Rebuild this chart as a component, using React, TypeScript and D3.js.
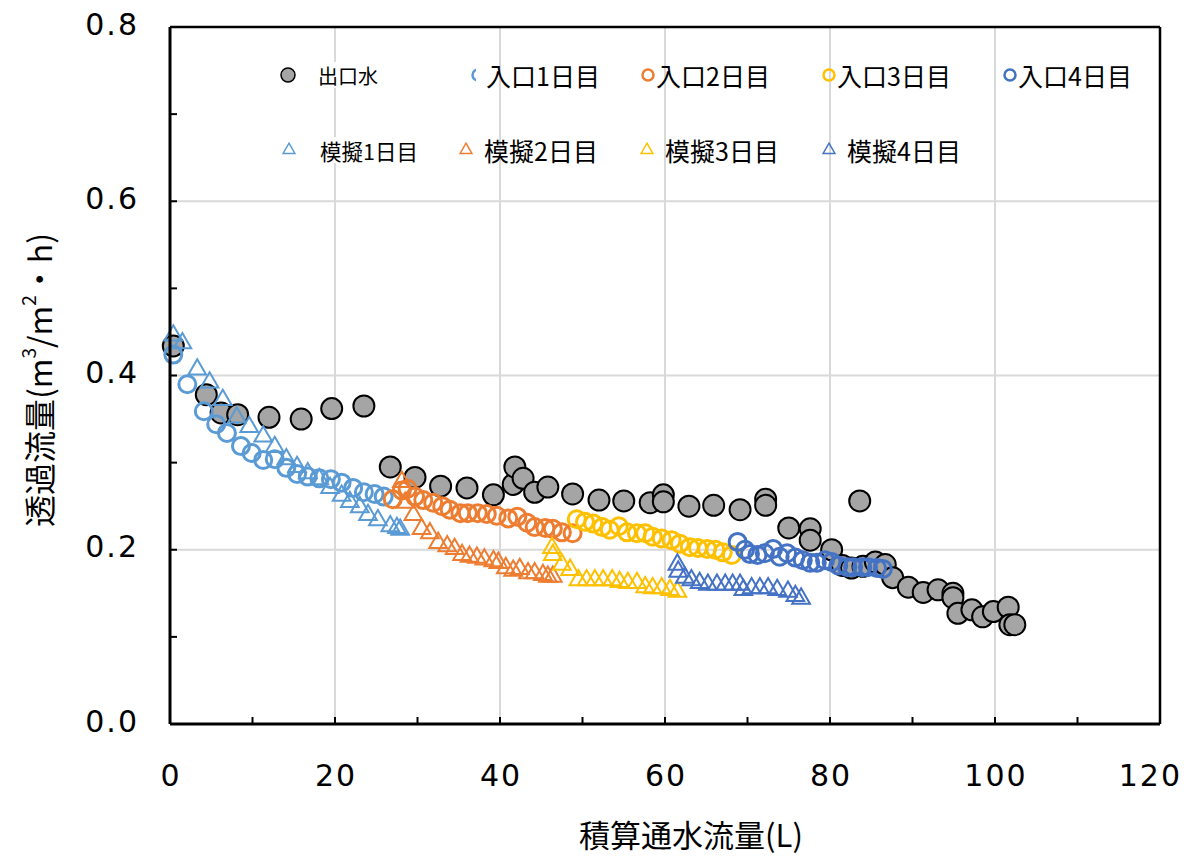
import React from 'react';
import * as d3 from 'd3';

// [積算通水流量 L, 透過流量 m3/m2·h]
const outlet = [
  [0.4, 0.434], [4.4, 0.378], [6.2, 0.357], [8.2, 0.355], [12.0, 0.352], [15.9, 0.35],
  [19.6, 0.362], [23.5, 0.365], [26.7, 0.295], [29.7, 0.283], [32.8, 0.273], [36.0, 0.271],
  [39.2, 0.263], [41.6, 0.275], [41.8, 0.295], [42.8, 0.282], [44.2, 0.266], [45.8, 0.272],
  [48.8, 0.264], [52.0, 0.257], [55.0, 0.256], [58.2, 0.254], [59.8, 0.263], [59.8, 0.255],
  [62.9, 0.25], [65.9, 0.251], [69.1, 0.246], [72.2, 0.258], [72.2, 0.251], [75.0, 0.225],
  [77.6, 0.224], [77.6, 0.211], [80.2, 0.2], [81.5, 0.182], [82.6, 0.179], [83.6, 0.256],
  [84.0, 0.181], [85.5, 0.186], [86.7, 0.183], [87.6, 0.168], [89.5, 0.157], [91.3, 0.151],
  [93.1, 0.154], [94.9, 0.15], [94.9, 0.145], [95.5, 0.127], [97.2, 0.131], [98.5, 0.123],
  [99.8, 0.129], [101.6, 0.134], [101.8, 0.114], [102.4, 0.114],
];

const inlet1 = [
  [0.4, 0.424], [2.1, 0.39], [4.1, 0.359], [5.6, 0.344], [6.9, 0.334], [8.6, 0.319],
  [9.9, 0.311], [11.3, 0.303], [12.7, 0.304], [14.1, 0.294], [15.4, 0.287], [16.7, 0.284],
  [18.1, 0.282], [19.5, 0.281], [20.8, 0.277], [22.2, 0.271], [23.5, 0.266], [24.8, 0.264],
  [25.9, 0.261],
];
const inlet2 = [
  [27.0, 0.258], [28.1, 0.268], [28.8, 0.27], [29.7, 0.261], [30.7, 0.257], [31.9, 0.254],
  [33.0, 0.25], [33.9, 0.246], [35.2, 0.242], [36.1, 0.242], [37.3, 0.242], [38.4, 0.241],
  [39.6, 0.239], [41.0, 0.236], [42.1, 0.238], [43.3, 0.231], [44.2, 0.226], [45.5, 0.225],
  [46.4, 0.224], [47.5, 0.22], [48.8, 0.219],
];
const inlet3 = [
  [49.3, 0.235], [50.3, 0.232], [51.3, 0.23], [52.4, 0.226], [53.3, 0.223], [54.4, 0.227],
  [55.4, 0.22], [56.6, 0.219], [57.6, 0.219], [58.5, 0.215], [59.6, 0.213], [60.8, 0.211],
  [61.8, 0.207], [63.0, 0.203], [64.0, 0.202], [65.1, 0.201], [66.1, 0.2], [67.0, 0.197],
  [68.1, 0.194],
];
const inlet4 = [
  [68.8, 0.209], [69.7, 0.2], [70.3, 0.195], [71.2, 0.194], [72.1, 0.196], [73.1, 0.201],
  [73.9, 0.192], [74.8, 0.196], [75.8, 0.191], [76.7, 0.188], [77.6, 0.185], [78.4, 0.185],
  [79.4, 0.188], [80.2, 0.186], [81.0, 0.182], [82.1, 0.18], [82.8, 0.18], [83.9, 0.18],
  [84.6, 0.18], [85.7, 0.179], [86.4, 0.178],
];

const sim1 = [
  [0.4, 0.446], [1.5, 0.437], [3.3, 0.407], [4.8, 0.392], [6.4, 0.372], [8.1, 0.352],
  [9.6, 0.341], [11.3, 0.33], [12.7, 0.318], [14.1, 0.304], [15.4, 0.295], [16.7, 0.288],
  [18.1, 0.281], [19.4, 0.271], [20.8, 0.262], [21.8, 0.255], [23.0, 0.249], [24.0, 0.24],
  [25.2, 0.234], [26.7, 0.227], [27.5, 0.225], [27.9, 0.223],
];
const sim2 = [
  [28.1, 0.278], [28.5, 0.254], [29.5, 0.24], [30.5, 0.224], [31.5, 0.219], [32.5, 0.208],
  [33.6, 0.204], [34.5, 0.201], [35.4, 0.194], [36.3, 0.192], [37.2, 0.191], [38.1, 0.189],
  [39.2, 0.187], [39.8, 0.185], [40.7, 0.179], [41.6, 0.176], [42.4, 0.178], [43.4, 0.173],
  [44.2, 0.173], [45.2, 0.171], [45.8, 0.169], [46.4, 0.169],
];
const sim3 = [
  [46.3, 0.202], [46.4, 0.194], [47.5, 0.183], [48.5, 0.177], [49.5, 0.165], [50.5, 0.165],
  [51.5, 0.165], [52.5, 0.165], [53.6, 0.165], [54.5, 0.163], [55.5, 0.162], [56.6, 0.162],
  [57.6, 0.157], [58.5, 0.156], [59.6, 0.156], [60.6, 0.154], [61.5, 0.152],
];
const sim4 = [
  [61.5, 0.183], [61.6, 0.175], [62.4, 0.168], [63.2, 0.165], [64.2, 0.162], [65.2, 0.16],
  [66.3, 0.16], [67.3, 0.16], [68.2, 0.16], [69.1, 0.16], [69.5, 0.154], [70.5, 0.156],
  [71.5, 0.156], [72.5, 0.156], [73.6, 0.154], [74.9, 0.152], [75.8, 0.147], [76.5, 0.144],
];

const xTicks = [0, 20, 40, 60, 80, 100, 120];
const yTicks = [0, 0.2, 0.4, 0.6, 0.8];

const colors = ['#5b9bd5', '#ed7d31', '#ffc000', '#4472c4'];
const inletSeries = [inlet1, inlet2, inlet3, inlet4];
const simSeries = [sim1, sim2, sim3, sim4];
const inletNames = ['入口1日目', '入口2日目', '入口3日目', '入口4日目'];
const simNames = ['模擬1日目', '模擬2日目', '模擬3日目', '模擬4日目'];

const W = 1184, H = 858;
const left = 170, right = 1160, top = 27, bottom = 724;
const numFont = '"DejaVu Sans", Verdana, sans-serif';
const jpFont = '"Noto Sans CJK JP", "Noto Sans", sans-serif';

export default function App() {
  const x = d3.scaleLinear().domain([0, 120]).range([left, right]);
  const y = d3.scaleLinear().domain([0, 0.8]).range([bottom, top]);
  const tri = d3.symbol().type(d3.symbolTriangle).size(135)()!;
  const triSmall = d3.symbol().type(d3.symbolTriangle).size(60)()!;

  const legendRow1 = 75, legendRow2 = 150;

  return (
    <svg width={W} height={H} style={{ position: 'absolute', left: 0, top: 0, background: '#fff' }}>
      {/* grid */}
      {xTicks.slice(1, -1).map(t => (
        <line key={'gx' + t} x1={x(t)} x2={x(t)} y1={top} y2={bottom} stroke="#d9d9d9" strokeWidth={2} />
      ))}
      {yTicks.slice(1, -1).map(t => (
        <line key={'gy' + t} x1={left} x2={right} y1={y(t)} y2={y(t)} stroke="#d9d9d9" strokeWidth={2} />
      ))}

      {/* legend */}
      <g fontFamily={jpFont} fill="#000">
        <circle cx={288} cy={legendRow1} r={7} fill="#a5a5a5" stroke="#000" strokeWidth={1.5} />
        <rect x={316} y={legendRow1 - 13} width={62} height={26} fill="#fff" />
        <text x={318} y={legendRow1} fontSize={20} dominantBaseline="central">出口水</text>
        <path d={triSmall} transform={`translate(289,${legendRow2})`} fill="none" stroke={colors[0]} strokeWidth={1.5} />
        <rect x={318} y={legendRow2 - 13} width={102} height={26} fill="#fff" />
        <text x={320} y={legendRow2} fontSize={21.5} dominantBaseline="central">{simNames[0]}</text>
        {inletNames.map((n, i) => {
          const lx = [478, 648, 829, 1010][i];
          return (
            <g key={n}>
              <circle cx={lx} cy={legendRow1} r={5.5} fill="none" stroke={colors[i]} strokeWidth={2.5} />
              {i === 0 && <rect x={476} y={legendRow1 - 14} width={10} height={28} fill="#fff" />}
              <text x={lx + 8} y={legendRow1} fontSize={25} dominantBaseline="central">{n}</text>
            </g>
          );
        })}
        {simNames.slice(1).map((n, k) => {
          const i = k + 1;
          const lx = [0, 466, 647, 829][i];
          return (
            <g key={n}>
              <path d={triSmall} transform={`translate(${lx},${legendRow2})`} fill="none" stroke={colors[i]} strokeWidth={1.5} />
              <text x={lx + 18} y={legendRow2} fontSize={25} dominantBaseline="central">{n}</text>
            </g>
          );
        })}
      </g>

      {/* outlet */}
      {outlet.map((d, i) => (
        <circle key={'o' + i} cx={x(d[0])} cy={y(d[1])} r={10.5} fill="#a5a5a5" stroke="#000" strokeWidth={2} />
      ))}
      {/* inlet days */}
      {inletSeries.map((s, si) => (
        <g key={'in' + si}>
          {s.map((d, i) => (
            <circle key={i} cx={x(d[0])} cy={y(d[1])} r={8.5} fill="none" stroke={colors[si]} strokeWidth={3} />
          ))}
        </g>
      ))}
      {/* simulated days */}
      {simSeries.map((s, si) => (
        <g key={'sim' + si}>
          {s.map((d, i) => (
            <path key={i} d={tri} transform={`translate(${x(d[0])},${y(d[1])})`} fill="none" stroke={colors[si]} strokeWidth={2} />
          ))}
        </g>
      ))}

      {/* frame & axes */}
      <line x1={left} x2={right} y1={top} y2={top} stroke="#000" strokeWidth={2.5} />
      <line x1={right} x2={right} y1={top} y2={bottom} stroke="#000" strokeWidth={2.5} />
      <line x1={left} x2={left} y1={top} y2={bottom} stroke="#000" strokeWidth={3} />
      <line x1={left} x2={right} y1={bottom} y2={bottom} stroke="#000" strokeWidth={3} />
      {d3.range(0, 121, 10).map(t => (
        <line key={'tx' + t} x1={x(t)} x2={x(t)} y1={bottom} y2={bottom - 7} stroke="#000" strokeWidth={2} />
      ))}
      {d3.range(0, 9).map(k => (
        <line key={'ty' + k} x1={left} x2={left + 7} y1={y(k / 10)} y2={y(k / 10)} stroke="#000" strokeWidth={2} />
      ))}

      {/* tick labels */}
      <g fontFamily={numFont} fontSize={30} fill="#000" letterSpacing={2}>
        {yTicks.map(t => (
          <text key={'ly' + t} x={139} y={y(t) - 3} textAnchor="end" dominantBaseline="central">{t.toFixed(1)}</text>
        ))}
        {xTicks.map(t => (
          <text
            key={'lx' + t}
            x={t === 120 ? 1182 : x(t) + 1}
            y={775}
            textAnchor={t === 120 ? 'end' : 'middle'}
            dominantBaseline="central"
          >{t}</text>
        ))}
      </g>

      {/* axis titles */}
      <text x={691} y={833} textAnchor="middle" dominantBaseline="central" fontFamily={jpFont} fontSize={31}>積算通水流量(L)</text>
      <text transform="translate(38,380) rotate(-90)" textAnchor="middle" dominantBaseline="central" fontFamily={jpFont} fontSize={32}>
        透過流量(m<tspan fontSize={19} dy={-11}>3</tspan><tspan dy={11}>/m</tspan><tspan fontSize={19} dy={-11}>2</tspan><tspan dy={11}>・h)</tspan>
      </text>
    </svg>
  );
}
